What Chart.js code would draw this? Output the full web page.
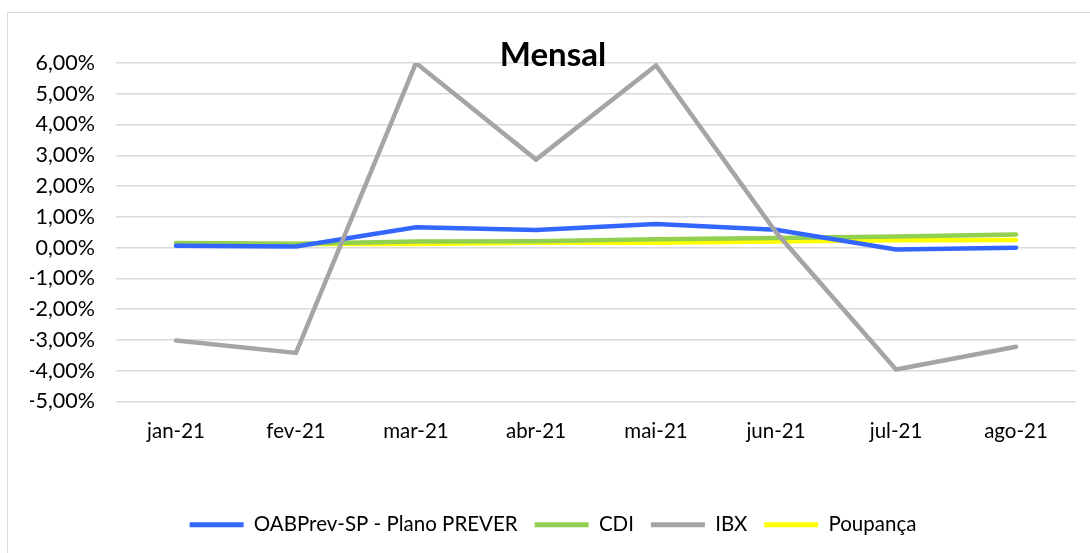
<!DOCTYPE html>
<html>
<head>
<meta charset="utf-8">
<script src="https://cdn.jsdelivr.net/npm/chart.js@4"></script>
<style>
    body { margin: 0; background: #fff; }
    #box {
        position: absolute; left: 7px; top: 12px;
        width: 1090px; height: 550px;
        border: 1px solid #d9d9d9; box-sizing: border-box;
    }
    #wrap { position: absolute; left: 22px; top: 1px; width: 1060px; height: 540px; }
</style>
</head>
<body>
<div id="box"><div id="wrap"><canvas id="myChart"></canvas></div></div>
<script>
    let months = ['jan-21', 'fev-21', 'mar-21', 'abr-21', 'mai-21', 'jun-21', 'jul-21', 'ago-21'];

    let oabPrev = [0.06, 0.04, 0.66, 0.57, 0.77, 0.58, -0.06, 0.00];
    let cdi = [0.15, 0.13, 0.20, 0.21, 0.27, 0.31, 0.36, 0.43];
    let ibx = [-3.02, -3.42, 6.00, 2.86, 5.92, 0.50, -3.96, -3.22];
    let poupanca = [0.12, 0.12, 0.12, 0.16, 0.16, 0.20, 0.24, 0.25];

    let font = 'Lato, "Liberation Sans", sans-serif';

    function line(label, data, color) {
        return {
            label: label,
            data: data,
            borderColor: color,
            backgroundColor: color,
            borderWidth: 4.5,
            pointRadius: 0,
            tension: 0,
            fill: false,
            borderCapStyle: 'round'
        };
    }

    let ctx = document.getElementById('myChart');
    let myChart = new Chart(ctx, {
        type: 'line',
        data: {
            labels: months,
            datasets: [
                line('IBX', ibx, '#a5a5a5'),
                line('OABPrev-SP - Plano PREVER', oabPrev, '#3366ff'),
                line('CDI', cdi, '#92d050'),
                line('Poupança', poupanca, '#ffff00')
            ]
        },
        options: {
            responsive: true,
            maintainAspectRatio: false,
            animation: false,
            layout: { padding: { left: 0, right: 14, top: 0, bottom: 9 } },
            plugins: {
                title: {
                    display: true,
                    text: 'Mensal',
                    color: '#000',
                    font: { family: font, size: 33, weight: 'bold' },
                    padding: { top: 22, bottom: -12.6 }
                },
                legend: {
                    position: 'bottom',
                    labels: {
                        color: '#000',
                        font: { family: font, size: 20.5 },
                        boxWidth: 54,
                        boxHeight: 5,
                        padding: 17,
                        sort: (a, b) => {
                            let order = ['OABPrev-SP - Plano PREVER', 'CDI', 'IBX', 'Poupança'];
                            return order.indexOf(a.text) - order.indexOf(b.text);
                        },
                        generateLabels: chart => chart.data.datasets.map((ds, i) => ({
                            text: ds.label,
                            fillStyle: ds.borderColor,
                            strokeStyle: ds.borderColor,
                            lineWidth: 0,
                            fontColor: '#000',
                            datasetIndex: i
                        }))
                    }
                },
                tooltip: { enabled: false }
            },
            scales: {
                x: {
                    offset: true,
                    grid: { display: false },
                    border: { display: false },
                    ticks: { color: '#000', font: { family: font, size: 20.5 }, padding: 10, maxRotation: 0 },
                    afterFit: s => { s.height = 96; }
                },
                y: {
                    min: -5,
                    max: 6,
                    grid: { color: '#d9d9d9', lineWidth: 1.5, drawTicks: false },
                    border: { display: false },
                    ticks: {
                        stepSize: 1,
                        color: '#000',
                        font: { family: font, size: 21.5 },
                        padding: 21,
                        callback: v => v.toFixed(2).replace('.', ',') + '%'
                    },
                    afterFit: s => { s.width = 86; }
                }
            }
        }
    });
</script>
</body>
</html>
